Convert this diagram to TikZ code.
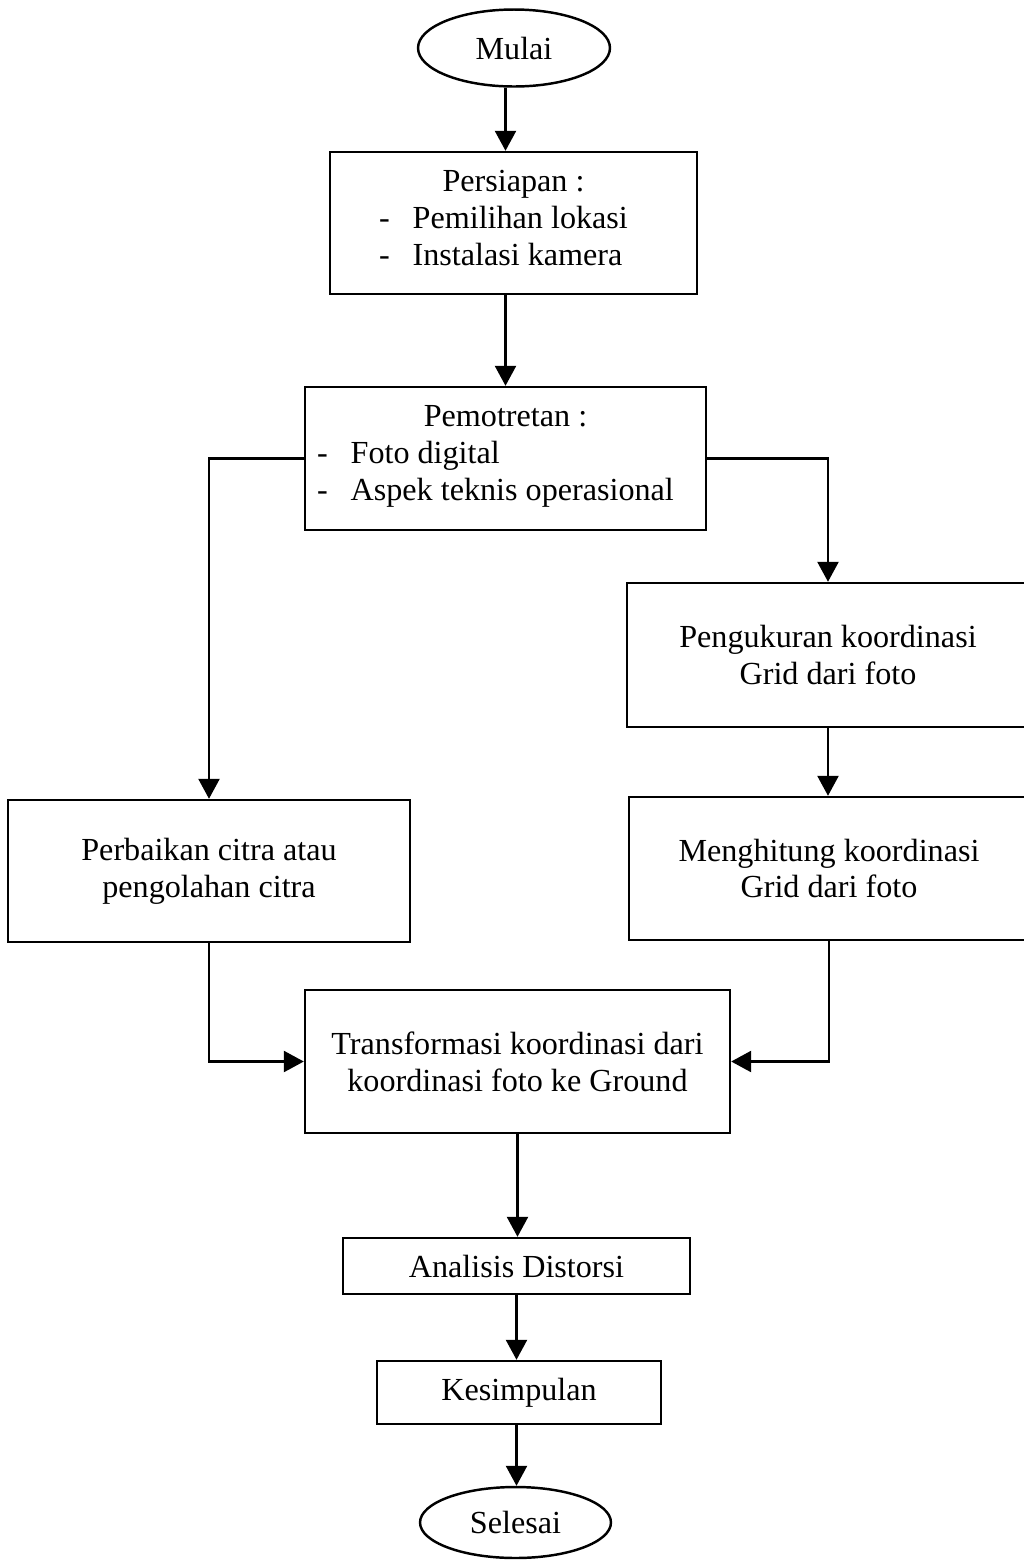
\documentclass[tikz,border=0pt]{standalone}
\usepackage{fontspec}
\setmainfont{Liberation Serif}
\usepackage{tikz}
\usetikzlibrary{arrows.meta,positioning,calc,shapes.geometric}
\tikzset{
  box/.style={draw,line width=1.4pt,rectangle,align=center,inner sep=2pt,
    font=\fontsize{18.3}{21}\selectfont},
  term/.style={draw,line width=1.4pt,ellipse,inner sep=0pt,
    font=\fontsize{18.3}{21}\selectfont},
  arr/.style={-{Triangle[length=0.4cm,width=0.42cm]},line width=1.4pt},
}
\newcommand{\itemlist}[2]{\begin{tabular}[t]{@{}l@{\hspace{13pt}}l@{}}-&#1\\-&#2\end{tabular}\hspace*{0.4cm}}

\begin{document}
\begin{tikzpicture}[x=0.02cm,y=-0.02cm]
  \clip (0,0) rectangle (1024,1560);
  % terminals
  \node[term,minimum width=3.84cm,minimum height=1.54cm] (start) at (514,48) {Mulai};
  \node[term,minimum width=3.82cm,minimum height=1.42cm] (stop) at (515.5,1522.5) {Selesai};
  % main column
  \node[box,minimum width=7.34cm,minimum height=2.84cm] (prep) at (513.5,223)
    {Persiapan :\\\itemlist{Pemilihan lokasi}{Instalasi kamera}};
  \node[box,minimum width=8.02cm,minimum height=2.86cm] (shoot) at (505.5,458.5)
    {Pemotretan :\\\itemlist{Foto digital}{Aspek teknis operasional}};
  \node[box,minimum width=8.5cm,minimum height=2.86cm] (trans) at (517.5,1061.5)
    {Transformasi koordinasi dari\\koordinasi foto ke Ground};
  \node[box,minimum width=6.94cm,minimum height=1.12cm] (anal) at (516.5,1266) {Analisis Distorsi};
  \node[box,minimum width=5.68cm,minimum height=1.26cm] (concl) at (519,1392.5) {Kesimpulan};
  % side branches
  \node[box,minimum width=8.04cm,minimum height=2.84cm] (fix) at (209,871)
    {Perbaikan citra atau\\pengolahan citra};
  \node[box,minimum width=8.04cm,minimum height=2.88cm] (measure) at (828,655)
    {Pengukuran koordinasi\\Grid dari foto};
  \node[box,minimum width=8cm,minimum height=2.86cm] (compute) at (829,868.5)
    {Menghitung koordinasi\\Grid dari foto};
  % connectors
  \draw[arr] (start.south -| shoot.north) -- (prep.north -| shoot.north);
  \draw[arr] (prep.south -| shoot.north) -- (shoot.north);
  \draw[arr] (shoot.west) -| (fix.north);
  \draw[arr] (shoot.east) -| (measure.north);
  \draw[arr] (measure.south) -- (measure.south |- compute.north);
  \draw[arr] (fix.south) |- (trans.west);
  \draw[arr] (compute.south) |- (trans.east);
  \draw[arr] (trans.south) -- (trans.south |- anal.north);
  \draw[arr] (anal.south) -- (anal.south |- concl.north);
  \draw[arr] (concl.south -| anal.south) -- (stop.north -| anal.south);
\end{tikzpicture}
\end{document}
